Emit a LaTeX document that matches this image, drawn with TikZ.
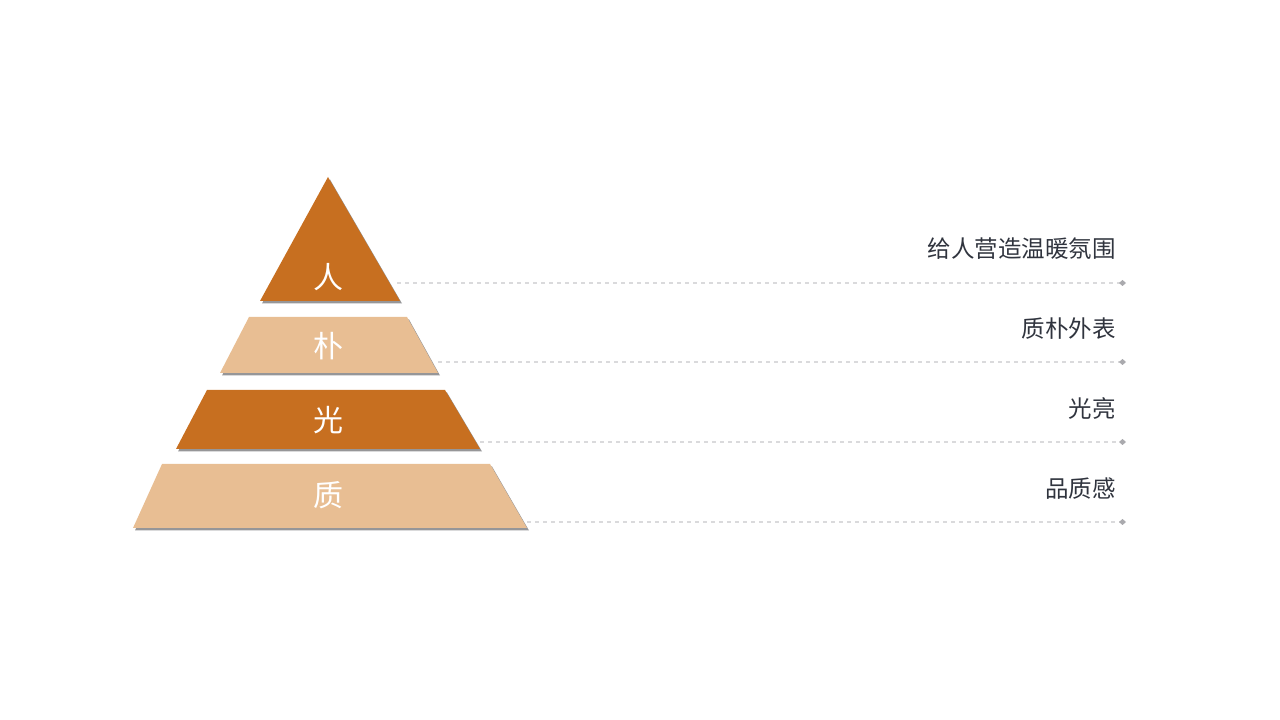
\documentclass[tikz,border=0pt]{standalone}
\usepackage{fontspec}
\usepackage{tikz}
\usetikzlibrary{arrows.meta}
\newfontfamily\cjk{Noto Sans CJK SC}

\begin{document}
\begin{tikzpicture}[x=1pt,y=1pt,
  tierlabel/.style={text=white,font=\cjk\fontsize{30}{34}\selectfont},
  sidelabel/.style={anchor=east,text=labeltext,font=\cjk\fontsize{23.5}{27}\selectfont,inner sep=0pt},
  guide/.style={draw=guideline,line width=1.1pt,dash pattern=on 4pt off 4pt,
    -{Diamond[length=7pt,width=6pt,fill=guidetip,color=guidetip,sep=0pt]}},
  shade/.style={fill=tiershadow,draw=none}]
% Define colours
\definecolor{darktier}{RGB}{199,111,32}
\definecolor{lighttier}{RGB}{232,190,147}
\definecolor{tiershadow}{RGB}{150,150,152}
\definecolor{guideline}{RGB}{218,218,220}
\definecolor{guidetip}{RGB}{170,170,174}
\definecolor{labeltext}{RGB}{48,52,62}

\useasboundingbox (0,0) rectangle (1280,720);

% Shadows
\fill[shade,shift={(2,-2.5)}] (260,419) -- (400,419) -- (328,543) -- cycle;
\fill[shade,shift={(2,-2.5)}] (220,347) -- (438,347) -- (407,403) -- (249,403) -- cycle;
\fill[shade,shift={(2,-2.5)}] (176,271) -- (480,271) -- (445,330) -- (207,330) -- cycle;
\fill[shade,shift={(2,-2.5)}] (133,192) -- (527,192) -- (490,256) -- (162,256) -- cycle;

% Pyramid tiers
\fill[darktier] (260,419) -- (400,419) -- (328,543) -- cycle;
\fill[lighttier] (220,347) -- (438,347) -- (407,403) -- (249,403) -- cycle;
\fill[darktier] (176,271) -- (480,271) -- (445,330) -- (207,330) -- cycle;
\fill[lighttier] (133,192) -- (527,192) -- (490,256) -- (162,256) -- cycle;

% Tier texts
\node[tierlabel] (ren) at (328,443) {人};
\node[tierlabel] (pu) at (328,374) {朴};
\node[tierlabel] (guang) at (328,300) {光};
\node[tierlabel] (zhi) at (328,225) {质};

% Guide lines
\coordinate (renstart) at (397,437);
\coordinate (pustart) at (438,358);
\coordinate (guangstart) at (480,278);
\coordinate (zhistart) at (527,198);
\coordinate (renend) at (1126,437);
\coordinate (puend) at (1126,358);
\coordinate (guangend) at (1126,278);
\coordinate (zhiend) at (1126,198);
\draw[guide] (renstart) -- (renend);
\draw[guide] (pustart) -- (puend);
\draw[guide] (guangstart) -- (guangend);
\draw[guide] (zhistart) -- (zhiend);

% Side texts
\node[sidelabel] (warm) at (1116,471) {给人营造温暖氛围};
\node[sidelabel] (plain) at (1116,391) {质朴外表};
\node[sidelabel] (bright) at (1116,311) {光亮};
\node[sidelabel] (quality) at (1116,231) {品质感};
\end{tikzpicture}
\end{document}
